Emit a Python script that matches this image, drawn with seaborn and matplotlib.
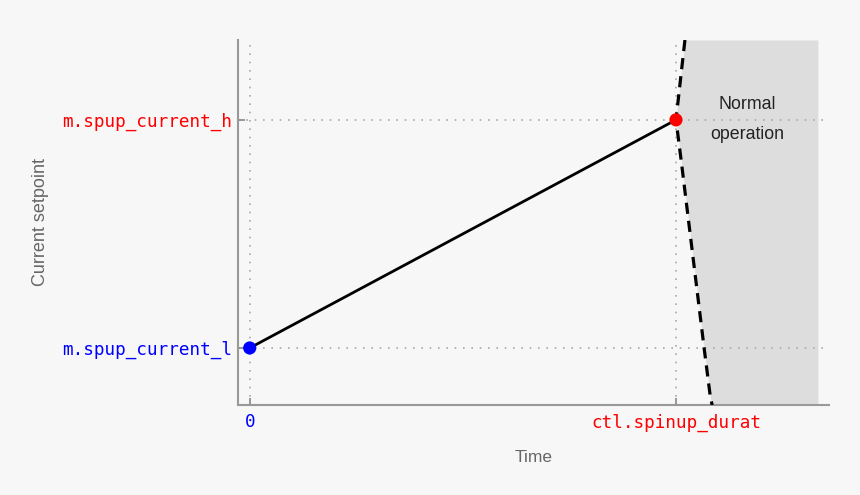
import numpy as np
import pandas as pd
import matplotlib
matplotlib.use('Agg')
import matplotlib.pyplot as plt
import seaborn as sns

# ramp from low to high current setpoint
ramp_time = [0.0, 1.0]
ramp_current = [0.0, 1.0]

# boundary of normal operation
boundary_current = [1.35, 1.0, 0.825, 0.0, -0.22, -0.25]
boundary_time = [1.021, 1.0, 1.012, 1.066, 1.081, 1.085]
normal_end = 1.333

x_ticks = [0.0, 1.0]
x_labels = ['0', 'ctl.spinup_durat']
x_colors = ['#0000ff', '#ff0000']
y_ticks = [0.0, 1.0]
y_labels = ['m.spup_current_l', 'm.spup_current_h']
y_colors = ['#0000ff', '#ff0000']

sns.set_theme(style='ticks')
plt.rcParams['font.family'] = ['Liberation Sans', 'DejaVu Sans']

fig = plt.figure(figsize=(8.6, 4.95), dpi=100, facecolor='#f7f7f7')
ax = fig.add_axes([238 / 860, 1 - 405 / 495, (829 - 238) / 860, (405 - 40) / 495])
ax.set_facecolor('#f7f7f7')

# shaded normal-operation area
ax.fill_betweenx(boundary_current, boundary_time, normal_end, color='#dddddd', lw=0, zorder=0.5)

df = pd.DataFrame({'Time': ramp_time, 'Current': ramp_current})
sns.lineplot(data=df, x='Time', y='Current', color='black', lw=2, ax=ax, zorder=3)

bd = pd.DataFrame({'Time': boundary_time, 'Current': boundary_current})
sns.lineplot(data=bd, x='Time', y='Current', color='black', lw=2.3, sort=False,
             ax=ax, zorder=3, dashes=False, linestyle=(0, (3.5, 2.2)))

sns.scatterplot(x=ramp_time, y=ramp_current, hue=['l', 'h'], palette=['#0000ff', '#ff0000'],
                s=90, edgecolor='none', legend=False, ax=ax, zorder=4)

ax.text(1.167, 1.0, 'Normal\noperation', ha='center', va='center', fontsize=12.8,
        color='#222222', linespacing=2.0)

ax.set_xlim(-0.0275, 1.359)
ax.set_ylim(-0.25, 1.35)

ax.set_xticks(x_ticks)
ax.set_xticklabels(x_labels)
ax.set_yticks(y_ticks)
ax.set_yticklabels(y_labels)
for lab, c in zip(ax.get_xticklabels(), x_colors):
    lab.set_color(c)
    lab.set_family('DejaVu Sans Mono')
    lab.set_fontsize(12.7)
for lab, c in zip(ax.get_yticklabels(), y_colors):
    lab.set_color(c)
    lab.set_family('DejaVu Sans Mono')
    lab.set_fontsize(12.7)
ax.tick_params(direction='in', length=5, width=1.2, color='#888888', pad=6)
ax.tick_params(axis='y', pad=4.5)

ax.grid(True, linestyle=(0, (1, 4)), color='#aaaaaa', lw=1.2)

for side in ['top', 'right']:
    ax.spines[side].set_visible(False)
for side in ['left', 'bottom']:
    ax.spines[side].set_color('#999999')
    ax.spines[side].set_linewidth(1.5)

ax.set_xlabel('Time', fontsize=12.5, color='#666666', labelpad=13.5)
ax.set_ylabel('Current setpoint', fontsize=13, color='#666666', labelpad=9)

fig.savefig('out.png', dpi=100, facecolor='#f7f7f7')
